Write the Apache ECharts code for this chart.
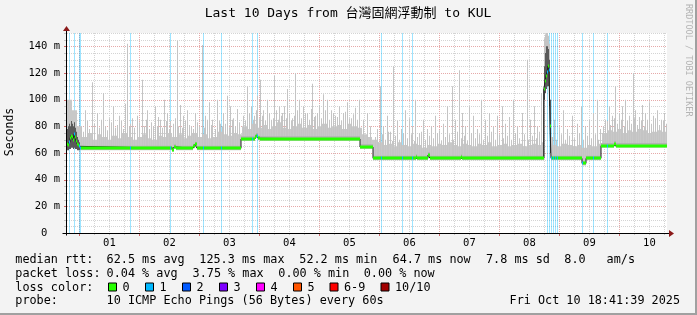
<!DOCTYPE html>
<html><head><meta charset="utf-8">
<script src="https://cdn.jsdelivr.net/npm/echarts@6/dist/echarts.min.js"></script>
<style>html,body{margin:0;padding:0;background:#f3f3f3}#c{width:697px;height:315px}</style>
</head><body><div id="c"></div>
<script>
// ---------------- data ----------------
const titleText = 'Last 10 Days from 台灣固網浮動制 to KUL';
const yAxisName = 'Seconds';
const sideText = 'RRDTOOL / TOBI OETIKER';
const sampleMinutes = 24;            // one column = 24 minutes, 600 columns = 10 days
const sampleCount = 600;
const firstMidnight = 12.4;          // sample index of Oct 1 00:00
const dayLabels = ['01','02','03','04','05','06','07','08','09','10'];
const yLabelValues = [0,20,40,60,80,100,120,140];
const yMax = 150;
// median rtt (ms): [first sample, value] held until the next entry
const medianSteps = [
 [0,67],[1,66],[2,68],[3,71],[4,73],[5,72],[6,70],[7,74],[8,72],[9,69],[10,67],[11,66],[12,65],
 [13,63.5],[105,62.5],[107,64.5],[109,63.5],[126,65],[128,66.5],[130,63.5],
 [174,70.5],[188,72],[189,73],[191,71],[193,70.5],
 [293,64.5],[306,56],[349,57],[350,56],[361,58.5],[363,56],[394,57],[395,56],
 [477,108],[478,114],[479,118],[480,121],[481,125.3],[482,122],[483,80],[484,56],
 [515,52.2],[519,56],[534,65.5],[547,67],[549,65.5],[600,65.5]
];
// samples with 1/10 packet loss
const lossSamples = [2,7,12,13,63,103,136,154,185,190,314,335,345,480,482,484,486,488,490,515,526,540];
// top of the dense smoke per 5 samples (ms)
const smokeBandTop = [
 100,92,80,72,75,70,74,72,70,73,71,75,72,70,72,74,71,70,73,72,75,72,74,71,73,75,72,74,71,72,76,74,73,75,74,
 80,78,82,79,81,78,80,83,79,78,80,82,79,81,78,80,82,79,80,81,78,82,80,79,
 74,72,
 70,68,66,67,65,68,66,65,67,66,64,66,65,67,66,68,66,65,67,66,65,67,66,68,65,66,67,65,66,67,65,66,67,66,
 68,72,
 66,65,67,66,65,66,64,66,65,67,
 75,77,76,78,75,77,76,78,77,75,76,77,76
];
// single-column smoke maxima: [sample, ms]
const smokeSpikes = [
 [18,92],[25,113],[30,90],[36,105],[42,86],[46,95],[52,88],[58,97],[60,142],[63,82],[70,88],[75,115],[80,92],
 [86,80],[88,95],[93,85],[97,100],[100,90],[103,84],[110,144],[113,96],[116,88],[120,92],[124,80],[128,90],
 [135,141],[138,88],[142,98],[145,85],[150,100],[153,82],[156,90],[160,103],[163,95],[166,86],[170,93],
 [14,80],[16,76],[20,84],[22,78],[27,82],[32,79],[34,85],[38,80],[40,77],[44,83],[48,79],[50,81],[54,84],
 [56,78],[62,80],[65,86],[67,79],[72,83],[77,80],[79,85],[82,78],[84,83],[90,80],[91,87],[95,79],[99,84],
 [102,78],[106,82],[108,86],[111,80],[115,79],[118,84],[122,81],[126,78],[130,83],[132,80],[137,79],[140,85],
 [144,81],[148,78],[152,84],[155,80],[158,82],[162,79],[165,85],[168,80],[172,83],
 [180,110],[184,95],[187,88],[190,103],[193,115],[196,92],[200,100],[204,85],[207,118],[212,95],[215,90],
 [220,108],[225,86],[228,120],[232,100],[236,95],[240,90],[245,112],[248,88],[252,96],[256,104],[260,100],
 [264,92],[268,88],[272,95],[276,90],[280,98],[284,86],[288,94],[292,100],[296,85],[300,90],[303,80],
 [176,88],[178,84],[182,90],[186,85],[189,92],[192,86],[195,88],[198,84],[202,90],[206,86],[209,92],[211,85],
 [214,88],[217,95],[219,86],[222,90],[224,84],[227,88],[230,92],[234,86],[238,90],[242,85],[244,93],[247,87],
 [250,90],[254,86],[258,92],[262,85],[266,90],[270,87],[274,84],[278,91],[282,86],[286,89],[290,85],
 [310,78],[313,110],[316,80],[320,88],[323,76],[326,125],[330,84],[334,78],[338,92],[342,86],[345,80],
 [348,100],[352,75],[356,85],[360,78],[364,80],[368,88],[372,77],[376,82],[380,95],[385,110],[388,85],
 [392,122],[395,90],[398,80],[402,95],[406,88],[410,78],[414,100],[418,85],[422,90],[426,80],[430,88],
 [435,95],[438,82],[442,87],[446,100],[450,80],[455,90],[460,130],[463,85],[467,95],[470,80],[474,105],
 [308,72],[311,68],[315,74],[318,70],[321,76],[325,69],[328,73],[332,70],[336,75],[340,71],[344,74],[347,69],
 [350,72],[354,76],[358,70],[362,73],[366,71],[370,75],[374,69],[378,72],[382,74],[386,70],[390,76],[394,71],
 [397,73],[400,69],[404,75],[408,71],[412,74],[416,70],[420,73],[424,76],[428,70],[432,74],[436,71],[440,73],
 [444,70],[448,75],[452,71],[457,74],[461,70],[465,73],[469,71],[472,76],
 [476,110],[477,146],[478,149],[479,150],[480,150],[481,148],[482,142],[483,100],
 [487,85],[492,80],[496,92],[500,78],[505,88],[510,82],[514,95],[518,80],[522,85],[526,90],[530,100],[533,78],
 [485,72],[489,70],[494,74],[498,70],[502,73],[507,71],[512,75],[516,70],[520,73],[524,71],[528,74],[531,70],
 [538,85],[542,95],[545,88],[548,110],[552,90],[555,95],[558,100],[562,88],[566,120],[568,92],[572,87],
 [575,96],[578,90],[582,98],[586,88],[590,92],[594,85],[597,90],
 [536,80],[540,84],[543,81],[547,86],[550,82],[554,85],[557,80],[560,84],[564,82],[567,86],[570,81],[574,84],
 [577,80],[580,85],[584,82],[588,86],[592,81],[596,84],[599,82]
];
// darker smoke core in turbulent columns: [sample, low ms, high ms]
const smokeCore = [
 [0,62,78],[1,62,80],[2,63,82],[3,63,80],[4,64,84],[5,64,82],[6,63,80],[7,64,83],[8,63,79],[9,63,76],
 [10,62,72],[11,62,70],[12,62,68],
 [476,56,108],[477,100,125],[478,105,135],[479,108,140],[480,110,140],[481,110,138],[482,95,130],[483,60,100]
];
const lossLabels = ['0','1','2','3','4','5','6-9','10/10'];
const lossColors = ['#26ff00','#00b8ff','#0059ff','#7e00ff','#ff00ff','#ff5500','#ff0000','#a10000'];
const rttLine = ['median rtt:','62.5 ms avg','125.3 ms max','52.2 ms min','64.7 ms now','7.8 ms sd','8.0','am/s'];
const lossLine = ['packet loss:','0.04 % avg','3.75 % max','0.00 % min','0.00 % now'];
const colorLineLabel = 'loss color:';
const probeLine = ['probe:','10 ICMP Echo Pings (56 Bytes) every 60s'];
const stampText = 'Fri Oct 10 18:41:39 2025';

// ---------------- layout / style ----------------
const MONO = '"DejaVu Sans Mono", "Noto Sans CJK TC", monospace';
const legendFont = '11.8px ' + MONO;
const rttX = [15.3,106.6,199.3,299.3,392.6,486,564.3,606.6];
const lossX = [15.3,106.6,192.6,278.3,363.7];
const boxX = [108.5,145.5,182.5,219.5,256.5,293.5,330,381];

function medianAt(i){let v=medianSteps[0][1];for(const s of medianSteps){if(s[0]<=i)v=s[1];else break;}return v;}
const lossSet = new Set(lossSamples);

const bandData=[], coreBandData=[], medData=[];
for(let i=0;i<sampleCount;i++){
  const m=medianAt(i);
  const top=Math.max(smokeBandTop[Math.floor(i/5)], m+2);
  bandData.push([i,i+1,m-1.5,top]);
  coreBandData.push([i,i+1,m-1,m+2]);
  medData.push([i,i+1,m,lossSet.has(i)?1:0]);
}
const spikeData = smokeSpikes.map(s=>[s[0],s[0]+1,medianAt(s[0])-1,s[1]]);
const coreData = smokeCore.map(s=>[s[0],s[0]+1,s[1],s[2]]);
const lossData = lossSamples.map(s=>[s,s+1,0,yMax]);
const blackLine = medianSteps.map(s=>[s[0],s[1]]);

function rectRender(color){
  return function(params, api){
    const a=api.coord([api.value(0),api.value(3)]);
    const b=api.coord([api.value(1),api.value(2)]);
    return {type:'rect',shape:{x:a[0],y:a[1],width:b[0]-a[0],height:b[1]-a[1]},style:{fill:color}};
  };
}
function rectSeries(data,color,z){
  return {type:'custom',renderItem:rectRender(color),data:data,encode:{x:[0,1],y:[2,3]},silent:true,z:z,animation:false};
}

const gridSeries = {
  type:'custom', silent:true, clip:false, z:1, animation:false, data:[[0,0]],
  renderItem(params, api){
    const ch=[];
    const top=api.coord([0,yMax])[1], bot=api.coord([0,0])[1];
    const left=api.coord([0,0])[0], right=api.coord([sampleCount,0])[0];
    for(let v=5; v<=yMax; v+=5){
      const y=Math.round(api.coord([0,v])[1])+0.5, major=v%20===0;
      ch.push({type:'line',shape:{x1:left,y1:y,x2:right,y2:y},style:{stroke:major?'#e6a9a9':'#d4d4d4',lineWidth:1,lineDash:[1,1]}});
      ch.push({type:'line',shape:{x1:left-3,y1:y,x2:left,y2:y},style:{stroke:major?'#d06a6a':'#c4c4c4',lineWidth:1}});
    }
    for(let k=0;;k++){
      const t=firstMidnight+15*k; if(t>=sampleCount) break;
      const x=Math.round(api.coord([t,0])[0])+0.5, major=k%4===0;
      ch.push({type:'line',shape:{x1:x,y1:top,x2:x,y2:bot},style:{stroke:major?'#e6a9a9':'#d4d4d4',lineWidth:1,lineDash:[1,1]}});
      ch.push({type:'line',shape:{x1:x,y1:bot,x2:x,y2:bot+(major?3:2)},style:{stroke:major?'#d06a6a':'#c4c4c4',lineWidth:1}});
    }
    return {type:'group',children:ch};
  }
};
const axesSeries = {
  type:'custom', silent:true, clip:false, z:20, animation:false, data:[[0,0]],
  renderItem(params, api){
    const top=api.coord([0,yMax])[1], bot=Math.round(api.coord([0,0])[1])+0.5;
    const left=Math.round(api.coord([0,0])[0])-0.5, right=api.coord([sampleCount,0])[0];
    return {type:'group',children:[
      {type:'line',shape:{x1:left-4,y1:bot,x2:right+3,y2:bot},style:{stroke:'#000',lineWidth:1}},
      {type:'line',shape:{x1:left,y1:bot+2,x2:left,y2:top-5},style:{stroke:'#000',lineWidth:1}},
      {type:'polygon',shape:{points:[[right+2,bot-3.5],[right+7,bot],[right+2,bot+3.5]]},style:{fill:'#8b1a1a'}},
      {type:'polygon',shape:{points:[[left-3.5,top-2],[left,top-7],[left+3.5,top-2]]},style:{fill:'#8b1a1a'}}
    ]};
  }
};
const medianSeries = {
  type:'custom', silent:true, z:12, animation:false, data:medData, encode:{x:[0,1],y:2},
  renderItem(params, api){
    const a=api.coord([api.value(0),api.value(2)]), b=api.coord([api.value(1),api.value(2)]);
    const yc=Math.round(a[1]);
    return {type:'rect',shape:{x:a[0],y:yc-1.5,width:b[0]-a[0],height:3},style:{fill:api.value(3)?lossColors[1]:lossColors[0]}};
  }
};

const noonValues = dayLabels.map((d,k)=>firstMidnight+30+60*k);

const graphics = [];
function txt(x,y,text,font,extra){graphics.push(Object.assign({type:'text',x:x,y:y,silent:true,style:Object.assign({text:text,font:font,fill:'#000',align:'left',verticalAlign:'middle',textAlign:'left',textVerticalAlign:'middle'},extra||{})}));}
txt(348,14,titleText,'13px '+MONO,{align:'center',textAlign:'center'});
graphics.push({type:'text',x:10,y:132,rotation:Math.PI/2,silent:true,style:{text:yAxisName,font:'11.5px '+MONO,fill:'#000',align:'center',verticalAlign:'middle',textAlign:'center',textVerticalAlign:'middle'}});
graphics.push({type:'text',x:688,y:4,rotation:-Math.PI/2,silent:true,style:{text:sideText,font:'8.5px '+MONO,fill:'#b4b4b4',align:'left',verticalAlign:'middle',textAlign:'left',textVerticalAlign:'middle'}});
rttLine.forEach((t,k)=>txt(rttX[k],259.5,t,legendFont));
lossLine.forEach((t,k)=>txt(lossX[k],273.5,t,legendFont));
txt(15.3,287.5,colorLineLabel,legendFont);
lossLabels.forEach((t,k)=>{
  const x=boxX[k];
  graphics.push({type:'rect',silent:true,shape:{x:x,y:283,width:8,height:8},style:{fill:lossColors[k],stroke:'#000',lineWidth:1}});
  txt(x+14,287.5,t,legendFont);
});
txt(15.3,301,probeLine[0],legendFont);
txt(106.6,301,probeLine[1],legendFont);
txt(680,301,stampText,legendFont,{align:'right',textAlign:'right'});
graphics.push({type:'line',silent:true,shape:{x1:0,y1:314,x2:697,y2:314},style:{stroke:'#a0a0a0',lineWidth:2}});
graphics.push({type:'line',silent:true,shape:{x1:696,y1:0,x2:696,y2:315},style:{stroke:'#a0a0a0',lineWidth:2}});

const option = {
  animation:false,
  backgroundColor:'#f3f3f3',
  grid:{left:67,top:33,width:600,height:200,backgroundColor:'#ffffff',show:true,borderWidth:0},
  xAxis:{type:'value',min:0,max:sampleCount,
    axisLine:{show:false},axisTick:{show:false},splitLine:{show:false},
    axisLabel:{customValues:noonValues,margin:5,color:'#000',fontFamily:MONO,fontSize:10.5,
      formatter:v=>dayLabels[Math.round((v-firstMidnight-30)/60)]}},
  yAxis:{type:'value',min:0,max:yMax,
    axisLine:{show:false},axisTick:{show:false},splitLine:{show:false},
    axisLabel:{customValues:yLabelValues,margin:7,color:'#000',fontFamily:MONO,fontSize:10.5,
      formatter:v=>v===0?'0  ':v+' m'}},
  series:[
    gridSeries,
    rectSeries(lossData,'rgba(0,184,255,0.38)',2),
    rectSeries(bandData,'#c8c8c8',3),
    rectSeries(spikeData,'#c4c4c4',4),
    rectSeries(coreBandData,'#b2b2b2',5),
    rectSeries(coreData,'#5a5a5a',6),
    {type:'line',data:blackLine,step:'end',showSymbol:false,symbol:'none',lineStyle:{color:'#202020',width:1},z:10,silent:true,animation:false},
    medianSeries,
    axesSeries
  ],
  graphic:graphics
};
const chart = echarts.init(document.getElementById('c'));
chart.setOption(option);
</script></body></html>
